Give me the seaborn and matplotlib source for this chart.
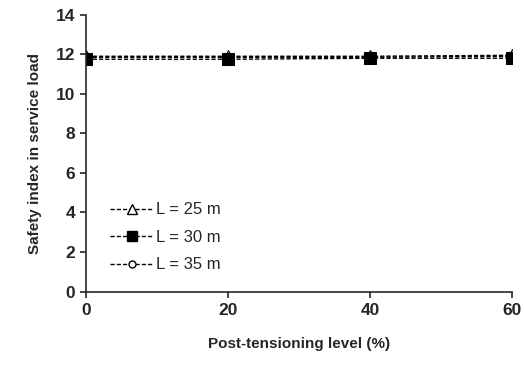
import matplotlib
matplotlib.use("Agg")
import matplotlib.pyplot as plt
from matplotlib.lines import Line2D
import seaborn as sns

# data
levels = [0, 20, 40, 60]
L25 = [11.9, 11.9, 11.9, 11.95]
L30 = [11.75, 11.75, 11.8, 11.8]
L35 = [11.85, 11.85, 11.85, 11.9]
labels = ["L = 25 m", "L = 30 m", "L = 35 m"]

sns.set_style("ticks")
plt.rcParams["font.family"] = ["Liberation Sans", "DejaVu Sans"]
plt.rcParams["font.weight"] = "bold"
plt.rcParams["axes.labelweight"] = "bold"

fig, ax = plt.subplots(figsize=(5.24, 3.69), dpi=100)

styles = [
    (L25, "^", "white", 8),
    (L35, "o", "white", 6),
    (L30, "s", "black", 8),
]
for vals, mk, fc, ms in styles:
    sns.lineplot(x=levels, y=vals, color="black", marker=mk, markersize=ms,
                 markerfacecolor=fc, markeredgecolor="black", linewidth=1,
                 linestyle=(0, (3, 1.5)), ax=ax)

ax.set_xlim(0, 60)
ax.set_ylim(0, 14)
ax.set_xticks([0, 20, 40, 60])
ax.set_yticks(range(0, 15, 2))
ax.set_xlabel("Post-tensioning level (%)", fontsize=11, labelpad=14)
ax.set_ylabel("Safety index in service load", fontsize=11, labelpad=10)
ax.tick_params(labelsize=12.5, direction="out", length=4, width=1.2, pad=4)
for s in ["left", "bottom"]:
    ax.spines[s].set_linewidth(1.2)
sns.despine(ax=ax)

handles = [
    Line2D([], [], color="black", lw=1, ls=(0, (3, 1.5)), marker="^",
           markersize=7, markerfacecolor="white", markeredgecolor="black"),
    Line2D([], [], color="black", lw=1, ls=(0, (3, 1.5)), marker="s",
           markersize=7, markerfacecolor="black", markeredgecolor="black"),
    Line2D([], [], color="black", lw=1, ls=(0, (3, 1.5)), marker="o",
           markersize=5, markerfacecolor="white", markeredgecolor="black"),
]
leg = ax.legend(handles=handles, labels=labels, loc="lower left",
                bbox_to_anchor=(0.02, 0.015), frameon=False,
                prop={"size": 12, "weight": "normal"},
                handlelength=2.6, handletextpad=0.15, labelspacing=0.75)

plt.subplots_adjust(left=0.165, right=0.977, top=0.96, bottom=0.21)
fig.savefig("out.png", dpi=100)
